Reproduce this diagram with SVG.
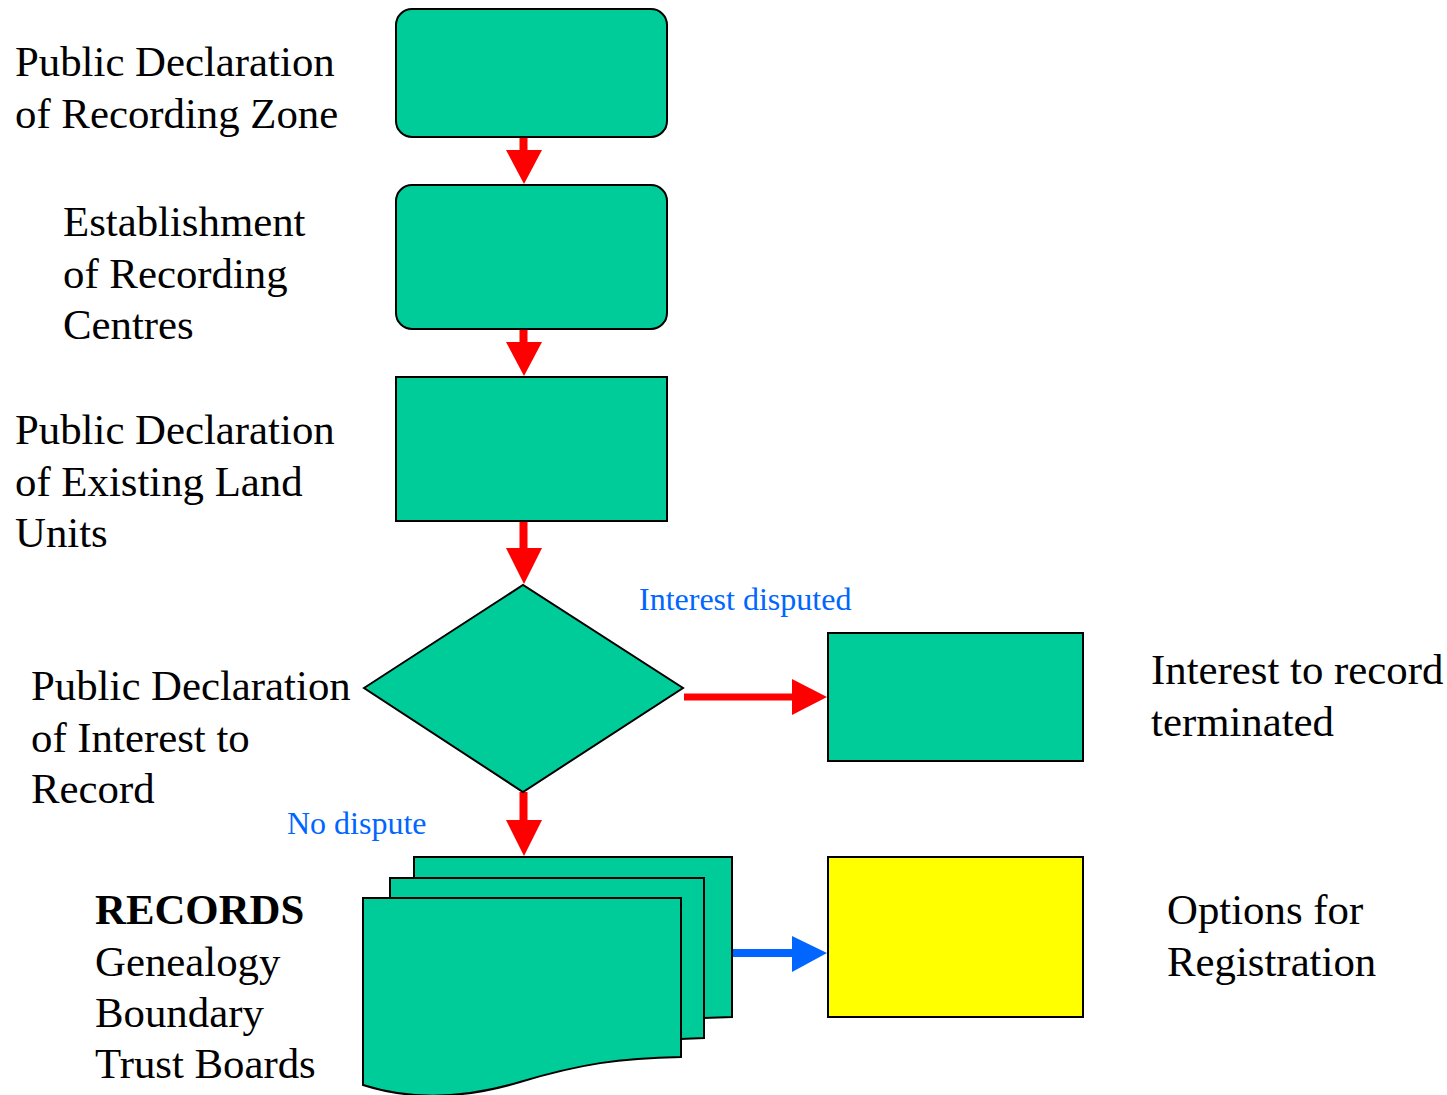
<svg xmlns="http://www.w3.org/2000/svg" width="1447" height="1095" viewBox="0 0 1447 1095">
  <style>
    .shape { fill: #00cc99; stroke: #000; stroke-width: 2; }
    .note { fill: #ffff00; stroke: #000; stroke-width: 2; }
    text { font-family: 'Liberation Serif', 'Times New Roman', Times, serif; }
    .lbl { font-size: 42.8px; fill: #000; }
    .cond { font-size: 32px; fill: #0066ff; }
    .red { fill: #ff0000; }
    .blue { fill: #0066ff; }
  </style>
  <rect width="1447" height="1095" fill="#fff"/>

  <g id="connectors">
    <!-- vertical red arrows: shaft + head -->
    <path class="red" d="M519.5,137 h8 v13 h14.5 l-18,34 l-18,-34 h13.5 z"/>
    <path class="red" d="M519.5,329 h8 v13 h14.5 l-18,34 l-18,-34 h13.5 z"/>
    <path class="red" d="M519.5,521 h8 v27 h14.5 l-18,36 l-18,-36 h13.5 z"/>
    <path class="red" d="M519.5,792 h8 v28 h14.5 l-18,36 l-18,-36 h13.5 z"/>
    <!-- horizontal arrows -->
    <path class="red" d="M684,693.5 h108 v-14.5 l35,18 l-35,18 v-14.5 h-108 z"/>
    <path class="blue" d="M732,949 h60 v-13 l35,17 l-35,19 v-15 h-60 z"/>
  </g>

  <g id="zone">
    <rect class="shape" x="396" y="9" width="271" height="128" rx="16"/>
    <text class="lbl" x="15" y="76">Public Declaration</text>
    <text class="lbl" x="15" y="128">of Recording Zone</text>
  </g>

  <g id="centres">
    <rect class="shape" x="396" y="185" width="271" height="144" rx="16"/>
    <text class="lbl" x="63" y="236">Establishment</text>
    <text class="lbl" x="63" y="288">of Recording</text>
    <text class="lbl" x="63" y="339">Centres</text>
  </g>

  <g id="land-units">
    <rect class="shape" x="396" y="377" width="271" height="144"/>
    <text class="lbl" x="15" y="444">Public Declaration</text>
    <text class="lbl" x="15" y="496">of Existing Land</text>
    <text class="lbl" x="15" y="547">Units</text>
  </g>

  <g id="interest">
    <polygon class="shape" points="364,688 523,585 683,688 523,792"/>
    <text class="lbl" x="31" y="700">Public Declaration</text>
    <text class="lbl" x="31" y="752">of Interest to</text>
    <text class="lbl" x="31" y="803">Record</text>
  </g>

  <g id="terminated">
    <rect class="shape" x="828" y="633" width="255" height="128"/>
    <text class="lbl" x="1151" y="684">Interest to record</text>
    <text class="lbl" x="1151" y="736">terminated</text>
  </g>

  <g id="records">
    <path class="shape" d="M414,857 H732 V1017 L704,1018 V878 H414 Z"/>
    <path class="shape" d="M390,878 H704 V1038 L681,1039 V898 H390 Z"/>
    <path class="shape" d="M363,898 H681 V1057 C620,1058 580,1064 520,1082 C460,1100 410,1100 363,1085 Z"/>
    <text class="lbl" x="95" y="924" font-weight="bold">RECORDS</text>
    <text class="lbl" x="95" y="976">Genealogy</text>
    <text class="lbl" x="95" y="1027">Boundary</text>
    <text class="lbl" x="95" y="1078">Trust Boards</text>
  </g>

  <g id="registration">
    <rect class="note" x="828" y="857" width="255" height="160"/>
    <text class="lbl" x="1167" y="924">Options for</text>
    <text class="lbl" x="1167" y="976">Registration</text>
  </g>

  <g id="conditions">
    <text class="cond" x="639" y="610">Interest disputed</text>
    <text class="cond" x="287" y="834">No dispute</text>
  </g>
</svg>
